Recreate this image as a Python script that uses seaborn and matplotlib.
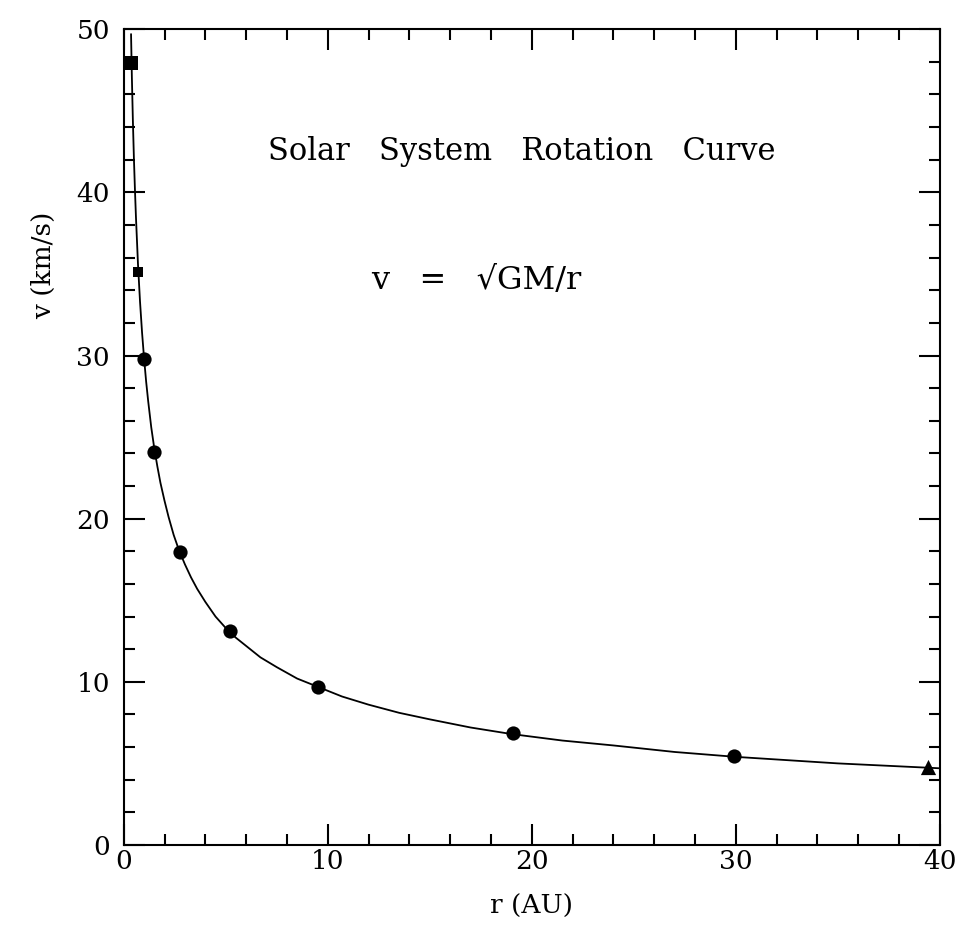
import matplotlib
matplotlib.use("Agg")
import matplotlib.pyplot as plt
import numpy as np
import pandas as pd
import seaborn as sns
from matplotlib.ticker import MultipleLocator

bodies = ["Mercury", "Venus", "Earth", "Mars", "Ceres",
          "Jupiter", "Saturn", "Uranus", "Neptune", "Pluto"]
r_au = [0.35, 0.70, 0.98, 1.47, 2.75, 5.2, 9.5, 19.1, 29.9, 39.4]
v_kms = [47.9, 35.1, 29.8, 24.1, 17.95, 13.1, 9.7, 6.85, 5.45, 4.8]

# Keplerian curve
curve_r = [0.36, 0.40, 0.45, 0.50, 0.55, 0.60, 0.70, 0.80, 0.90, 1.0, 1.1,
           1.2, 1.35, 1.5, 1.65, 1.8, 2.0, 2.2, 2.45, 2.7, 3.0, 3.3, 3.6,
           4.0, 4.5, 5.0, 5.5, 6.0, 6.7, 7.5, 8.5, 9.5, 10.7, 12, 13.5, 15,
           17, 19, 21.5, 24, 27, 30, 35, 40]
curve_v = [49.7, 47.1, 44.4, 42.1, 40.2, 38.5, 35.6, 33.3, 31.4, 29.8, 28.4,
           27.2, 25.6, 24.3, 23.2, 22.2, 21.1, 20.1, 19.0, 18.1, 17.2, 16.4,
           15.7, 14.9, 14.0, 13.3, 12.7, 12.2, 11.5, 10.9, 10.2, 9.7, 9.1,
           8.6, 8.1, 7.7, 7.2, 6.8, 6.4, 6.1, 5.7, 5.4, 5.0, 4.7]

title_text = "Solar   System   Rotation   Curve"
formula_text = "v   =   \u221aGM/r"


def main() -> None:
    sns.set_theme(style="ticks")
    plt.rcParams.update({
        "font.family": ["DejaVu Serif"],
        "axes.linewidth": 1.5,
        "text.color": "black",
        "axes.labelcolor": "black",
        "xtick.color": "black",
        "ytick.color": "black",
    })

    fig = plt.figure(figsize=(9.74, 9.42), dpi=100)
    ax = fig.add_axes([0.127, 0.103, 0.838, 0.866])

    curve = pd.DataFrame({"r": curve_r, "v": curve_v})
    sns.lineplot(data=curve, x="r", y="v", color="black", linewidth=1.3,
                 sort=False, ax=ax)

    pts = pd.DataFrame({"body": bodies, "r": r_au, "v": v_kms})
    shapes = {b: "o" for b in bodies}
    shapes.update({"Mercury": "s", "Venus": "s", "Pluto": "^"})
    sizes = {b: 105 for b in bodies}
    sizes.update({"Mercury": 110, "Venus": 45, "Pluto": 120})
    for b, grp in pts.groupby("body", sort=False):
        sns.scatterplot(data=grp, x="r", y="v", marker=shapes[b], s=sizes[b],
                        color="black", edgecolor="black", linewidth=0, ax=ax,
                        zorder=3)

    ax.set_xlim(0, 40)
    ax.set_ylim(0, 50)
    ax.xaxis.set_major_locator(MultipleLocator(10))
    ax.xaxis.set_minor_locator(MultipleLocator(2))
    ax.yaxis.set_major_locator(MultipleLocator(10))
    ax.yaxis.set_minor_locator(MultipleLocator(2))
    ax.tick_params(which="both", direction="in", top=True, right=True,
                   color="black", width=1.5, labelsize=19)
    ax.tick_params(axis="x", pad=3)
    ax.tick_params(axis="y", pad=10)
    ax.tick_params(which="major", length=15)
    ax.tick_params(which="minor", length=8)

    ax.set_xlabel("r (AU)", fontsize=19, labelpad=14)
    ax.set_ylabel("v (km/s)", fontsize=19)
    ax.yaxis.set_label_coords(-0.083, 0.71)

    ax.text(19.5, 42.5, title_text, fontsize=22, ha="center", va="center")
    ax.text(17.3, 34.6, formula_text, fontsize=23, ha="center", va="center")

    for s in ax.spines.values():
        s.set_color("black")

    fig.savefig("out.png", dpi=100)
    plt.close(fig)


if __name__ == "__main__":
    main()
